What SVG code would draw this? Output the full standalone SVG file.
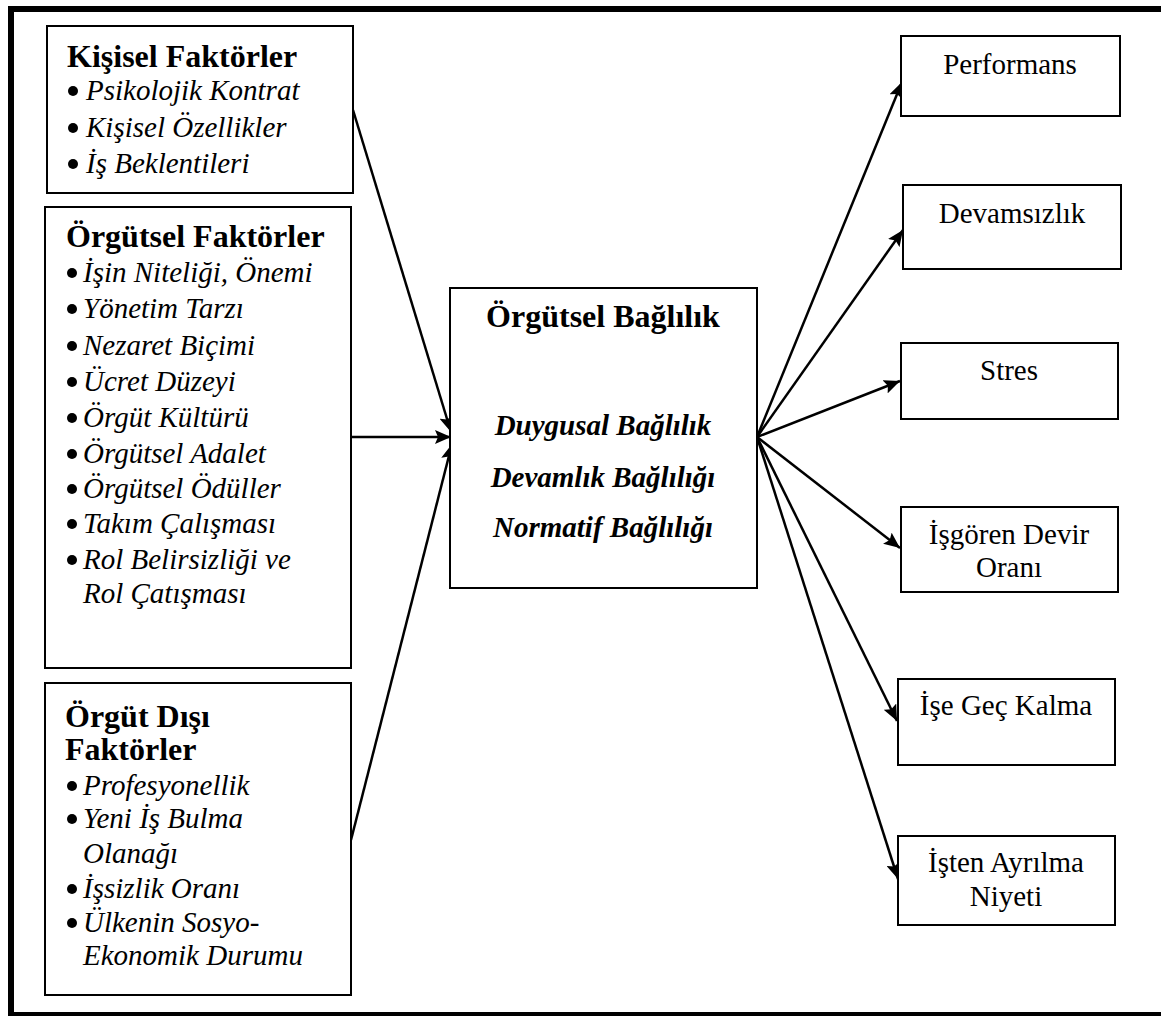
<svg xmlns="http://www.w3.org/2000/svg" width="1161" height="1016" viewBox="0 0 1161 1016">
  <style>
    .box { fill: #fff; stroke: #000; stroke-width: 2; }
    .h { font-family: "Liberation Serif", "Times New Roman", serif; font-weight: bold; font-size: 32px; fill: #000; }
    .it { font-family: "Liberation Serif", "Times New Roman", serif; font-style: italic; font-size: 29px; fill: #000; }
    .r { font-family: "Liberation Serif", "Times New Roman", serif; font-size: 29px; fill: #000; text-anchor: middle; }
    .bi { font-family: "Liberation Serif", "Times New Roman", serif; font-weight: bold; font-style: italic; font-size: 29px; fill: #000; text-anchor: middle; }
    .dot { fill: #000; }
    .link { fill: none; stroke: #000; stroke-width: 2.5; marker-end: url(#arrow); }
  </style>
  <defs>
    <marker id="arrow" markerUnits="userSpaceOnUse" markerWidth="17" markerHeight="14" viewBox="0 0 17 14" refX="16" refY="7" orient="auto">
      <path d="M0,0 L16,7 L0,14 L3,7 z" fill="#000"/>
    </marker>
  </defs>

  <!-- outer frame -->
  <g id="frame" fill="#000">
    <rect x="8" y="6" width="1153" height="6"/>
    <rect x="8" y="6" width="6" height="1010"/>
    <rect x="8" y="1012" width="1153" height="4"/>
  </g>

  <!-- connectors -->
  <g id="connectors">
    <line class="link" x1="353" y1="110" x2="451" y2="432"/>
    <line class="link" x1="351" y1="437" x2="451" y2="437"/>
    <line class="link" x1="351" y1="840" x2="452" y2="444"/>
    <line class="link" x1="757" y1="437" x2="902" y2="82"/>
    <line class="link" x1="757" y1="437" x2="903" y2="230"/>
    <line class="link" x1="757" y1="437" x2="900" y2="381"/>
    <line class="link" x1="757" y1="437" x2="900" y2="548"/>
    <line class="link" x1="757" y1="437" x2="897" y2="721"/>
    <line class="link" x1="757" y1="437" x2="898" y2="879"/>
  </g>

  <!-- personal factors -->
  <g id="kisisel">
    <rect class="box" x="47" y="26" width="306" height="167"/>
    <text class="h" x="67" y="67">Kişisel Faktörler</text>
    <circle class="dot" cx="73" cy="91" r="5"/><text class="it" x="86" y="100">Psikolojik Kontrat</text>
    <circle class="dot" cx="73" cy="128" r="5"/><text class="it" x="86" y="137">Kişisel Özellikler</text>
    <circle class="dot" cx="73" cy="164" r="5"/><text class="it" x="86" y="173">İş Beklentileri</text>
  </g>

  <!-- organisational factors -->
  <g id="orgutsel">
    <rect class="box" x="45" y="207" width="306" height="461"/>
    <text class="h" x="66" y="247">Örgütsel Faktörler</text>
    <circle class="dot" cx="72" cy="273" r="5"/><text class="it" x="83" y="282">İşin Niteliği, Önemi</text>
    <circle class="dot" cx="72" cy="309" r="5"/><text class="it" x="83" y="318">Yönetim Tarzı</text>
    <circle class="dot" cx="72" cy="346" r="5"/><text class="it" x="83" y="355">Nezaret Biçimi</text>
    <circle class="dot" cx="72" cy="382" r="5"/><text class="it" x="83" y="391">Ücret Düzeyi</text>
    <circle class="dot" cx="72" cy="418" r="5"/><text class="it" x="83" y="427">Örgüt Kültürü</text>
    <circle class="dot" cx="72" cy="454" r="5"/><text class="it" x="83" y="463">Örgütsel Adalet</text>
    <circle class="dot" cx="72" cy="489" r="5"/><text class="it" x="83" y="498">Örgütsel Ödüller</text>
    <circle class="dot" cx="72" cy="524" r="5"/><text class="it" x="83" y="533">Takım Çalışması</text>
    <circle class="dot" cx="72" cy="560" r="5"/><text class="it" x="83" y="569">Rol Belirsizliği ve</text>
    <text class="it" x="83" y="603">Rol Çatışması</text>
  </g>

  <!-- external factors -->
  <g id="orgut-disi">
    <rect class="box" x="45" y="683" width="306" height="312"/>
    <text class="h" x="65" y="727">Örgüt Dışı</text>
    <text class="h" x="65" y="760">Faktörler</text>
    <circle class="dot" cx="72" cy="786" r="5"/><text class="it" x="83" y="795">Profesyonellik</text>
    <circle class="dot" cx="72" cy="819" r="5"/><text class="it" x="83" y="828">Yeni İş Bulma</text>
    <text class="it" x="83" y="863">Olanağı</text>
    <circle class="dot" cx="72" cy="889" r="5"/><text class="it" x="83" y="898">İşsizlik Oranı</text>
    <circle class="dot" cx="72" cy="923" r="5"/><text class="it" x="83" y="932">Ülkenin Sosyo-</text>
    <text class="it" x="83" y="965">Ekonomik Durumu</text>
  </g>

  <!-- organisational commitment -->
  <g id="baglilik">
    <rect class="box" x="450" y="288" width="307" height="300"/>
    <text class="h" x="603" y="327" text-anchor="middle">Örgütsel Bağlılık</text>
    <text class="bi" x="603" y="435">Duygusal Bağlılık</text>
    <text class="bi" x="603" y="487">Devamlık Bağlılığı</text>
    <text class="bi" x="603" y="537">Normatif Bağlılığı</text>
  </g>

  <!-- outcomes -->
  <g id="performans">
    <rect class="box" x="901" y="36" width="219" height="80"/>
    <text class="r" x="1010" y="74">Performans</text>
  </g>
  <g id="devamsizlik">
    <rect class="box" x="903" y="185" width="218" height="84"/>
    <text class="r" x="1012" y="223">Devamsızlık</text>
  </g>
  <g id="stres">
    <rect class="box" x="901" y="343" width="217" height="76"/>
    <text class="r" x="1009" y="380">Stres</text>
  </g>
  <g id="isgoren-devir">
    <rect class="box" x="901" y="507" width="217" height="85"/>
    <text class="r" x="1009" y="544">İşgören Devir</text>
    <text class="r" x="1009" y="577">Oranı</text>
  </g>
  <g id="ise-gec-kalma">
    <rect class="box" x="898" y="679" width="217" height="86"/>
    <text class="r" x="1006" y="715">İşe Geç Kalma</text>
  </g>
  <g id="isten-ayrilma">
    <rect class="box" x="898" y="836" width="217" height="89"/>
    <text class="r" x="1006" y="872">İşten Ayrılma</text>
    <text class="r" x="1006" y="906">Niyeti</text>
  </g>
</svg>
